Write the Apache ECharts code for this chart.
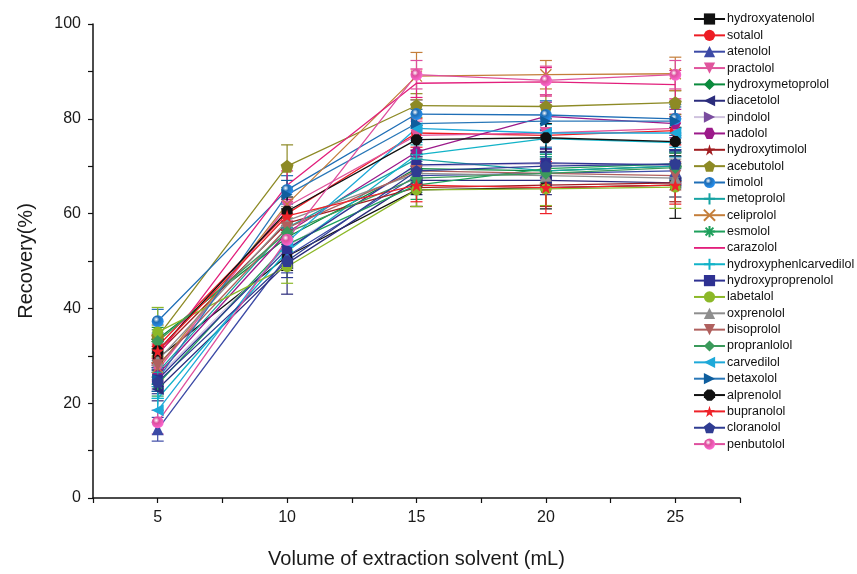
<!DOCTYPE html>
<html>
<head>
<meta charset="utf-8">
<title>Recovery vs extraction solvent volume</title>
<script src="https://cdn.jsdelivr.net/npm/echarts@6/dist/echarts.min.js"></script>
<style>
  html, body { margin: 0; padding: 0; background: #fff; }
  #chart { width: 857px; height: 574px; }
</style>
</head>
<body>
<div id="chart"></div>
<script>
// Extraction solvent volumes (mL)
const volume = [5, 10, 15, 20, 25];

// Mean recovery (%) and standard deviation for each analyte
const hydroxyatenolol = [29.5, 51.0, 65.0, 65.5, 66.0];
const hydroxyatenololErr = [2.5, 3.0, 3.5, 4.5, 7.0];
const sotalol = [32.0, 60.0, 77.0, 76.5, 77.5];
const sotalolErr = [2.5, 3.0, 3.0, 3.5, 3.0];
const atenolol = [14.5, 51.0, 68.0, 68.5, 69.0];
const atenololErr = [2.5, 3.5, 3.0, 3.0, 3.0];
const practolol = [27.0, 61.5, 76.5, 77.0, 78.0];
const practololErr = [2.5, 3.0, 3.0, 3.0, 3.0];
const hydroxymetoprolol = [33.5, 55.0, 69.5, 69.0, 70.0];
const hydroxymetoprololErr = [2.5, 3.0, 3.0, 3.0, 3.0];
const diacetolol = [23.0, 49.5, 67.0, 67.0, 66.5];
const diacetololErr = [2.5, 6.5, 3.0, 3.0, 3.0];
const pindolol = [25.5, 53.0, 70.0, 70.5, 70.0];
const pindololErr = [2.5, 3.0, 3.0, 3.0, 3.0];
const nadolol = [26.0, 56.0, 73.0, 80.5, 79.0];
const nadololErr = [2.5, 3.0, 3.0, 3.0, 3.0];
const hydroxytimolol = [30.5, 58.0, 65.5, 66.0, 66.5];
const hydroxytimololErr = [2.5, 3.0, 4.0, 4.5, 4.0];
const acebutolol = [34.0, 70.0, 82.8, 82.6, 83.4];
const acebutololErr = [2.5, 4.5, 2.5, 2.5, 2.5];
const timolol = [37.3, 65.0, 81.0, 80.8, 80.0];
const timololErr = [2.5, 3.0, 3.0, 3.0, 3.0];
const metoprolol = [26.5, 57.0, 71.5, 69.0, 70.0];
const metoprololErr = [2.5, 3.0, 3.0, 3.0, 3.0];
const celiprolol = [27.5, 62.0, 89.0, 89.3, 89.5];
const celiprololErr = [2.5, 3.0, 5.0, 3.0, 3.5];
const esmolol = [24.0, 53.5, 66.0, 69.5, 70.5];
const esmololErr = [2.5, 3.0, 3.0, 3.0, 3.0];
const carazolol = [30.0, 66.0, 87.5, 87.8, 87.2];
const carazololErr = [2.5, 3.0, 3.0, 3.0, 3.0];
const hydroxyphenlcarvedilol = [21.0, 52.0, 72.4, 75.8, 75.0];
const hydroxyphenlcarvedilolErr = [2.5, 3.0, 3.0, 3.0, 3.0];
const hydroxyproprenolol = [25.0, 52.5, 70.3, 70.7, 70.3];
const hydroxyproprenololErr = [2.5, 4.0, 3.0, 3.0, 3.0];
const labetalol = [35.0, 48.8, 65.0, 65.2, 65.6];
const labetalolErr = [5.2, 3.5, 3.5, 3.5, 4.5];
const oxprenolol = [29.0, 58.5, 68.5, 68.0, 67.5];
const oxprenololErr = [2.5, 3.0, 3.0, 3.0, 4.0];
const bisoprolol = [28.0, 57.0, 69.0, 68.5, 68.0];
const bisoprololErr = [2.5, 3.0, 3.0, 3.0, 3.0];
const propranlolol = [33.0, 56.0, 67.5, 68.5, 69.7];
const propranlololErr = [2.5, 3.0, 3.0, 3.0, 3.0];
const carvedilol = [18.5, 54.0, 78.0, 77.0, 77.0];
const carvedilolErr = [2.5, 3.0, 3.0, 3.0, 3.0];
const betaxolol = [25.0, 64.0, 79.0, 79.5, 79.5];
const betaxololErr = [2.5, 3.0, 3.0, 3.0, 3.0];
const alprenolol = [31.0, 60.5, 75.6, 76.0, 75.2];
const alprenololErr = [2.5, 3.0, 3.0, 3.0, 3.0];
const bupranolol = [31.0, 59.5, 66.0, 65.5, 66.0];
const bupranololErr = [2.5, 3.0, 3.5, 5.5, 4.0];
const cloranolol = [24.5, 50.0, 69.0, 70.0, 70.5];
const cloranololErr = [2.5, 3.5, 3.0, 3.0, 3.0];
const penbutolol = [16.0, 54.5, 89.3, 88.1, 89.3];
const penbutololErr = [2.5, 3.0, 3.0, 3.0, 3.0];

// Axis ticks
const xTicks = [5, 10, 15, 20, 25];
const yTicks = [0, 20, 40, 60, 80, 100];

// Marker shapes
const STAR = 'path://M50,0 L61,35 L98,35 L68,57 L79,91 L50,70 L21,91 L32,57 L2,35 L39,35 Z';
const PENTAGON = 'path://M50,0 L98,36 L80,95 L20,95 L2,36 Z';
const HEXAGON = 'path://M25,0 L75,0 L100,50 L75,100 L25,100 L0,50 Z';
const OCTAGON = 'path://M30,0 L70,0 L100,30 L100,70 L70,100 L30,100 L0,70 L0,30 Z';
const PLUS = 'path://M50,0 L50,100 M0,50 L100,50';
const CROSS = 'path://M0,0 L100,100 M100,0 L0,100';
const ASTERISK = 'path://M50,0 L50,100 M0,50 L100,50 M15,15 L85,85 M85,15 L15,85';
const BAR = 'path://M0,0 L100,0 L100,6 L0,6 Z';

const defs = [
  { name: 'hydroxyatenolol', data: hydroxyatenolol, err: hydroxyatenololErr, color: '#111111', symbol: 'rect', size: 10 },
  { name: 'sotalol', data: sotalol, err: sotalolErr, color: '#ed1c24', symbol: 'circle', size: 11 },
  { name: 'atenolol', data: atenolol, err: atenololErr, color: '#3c4aa6', symbol: 'triangle', size: 12 },
  { name: 'practolol', data: practolol, err: practololErr, color: '#e0559d', symbol: 'triangle', rotate: 180, size: 12 },
  { name: 'hydroxymetoprolol', data: hydroxymetoprolol, err: hydroxymetoprololErr, color: '#0b8a3d', symbol: 'diamond', size: 13 },
  { name: 'diacetolol', data: diacetolol, err: diacetololErr, color: '#2b2c7c', symbol: 'triangle', rotate: 90, size: 12 },
  { name: 'pindolol', data: pindolol, err: pindololErr, color: '#7a4c9f', line: '#cfc2de', symbol: 'triangle', rotate: -90, size: 11 },
  { name: 'nadolol', data: nadolol, err: nadololErr, color: '#9c1a8a', symbol: HEXAGON, size: 11 },
  { name: 'hydroxytimolol', data: hydroxytimolol, err: hydroxytimololErr, color: '#a11d21', symbol: STAR, size: 13 },
  { name: 'acebutolol', data: acebutolol, err: acebutololErr, color: '#8d8a25', symbol: PENTAGON, size: 13 },
  { name: 'timolol', data: timolol, err: timololErr, color: '#1f6eb6', symbol: 'circle', sphere: true, size: 12 },
  { name: 'metoprolol', data: metoprolol, err: metoprololErr, color: '#17a3a3', symbol: PLUS, hollow: true, size: 12 },
  { name: 'celiprolol', data: celiprolol, err: celiprololErr, color: '#c47e3a', symbol: CROSS, hollow: true, size: 11 },
  { name: 'esmolol', data: esmolol, err: esmololErr, color: '#1fa05c', symbol: ASTERISK, hollow: true, size: 12 },
  { name: 'carazolol', data: carazolol, err: carazololErr, color: '#e21f7c', symbol: 'none', size: 0, legendIcon: BAR },
  { name: 'hydroxyphenlcarvedilol', data: hydroxyphenlcarvedilol, err: hydroxyphenlcarvedilolErr, color: '#12b3c8', symbol: PLUS, hollow: true, size: 12 },
  { name: 'hydroxyproprenolol', data: hydroxyproprenolol, err: hydroxyproprenololErr, color: '#2e3192', symbol: 'rect', size: 10 },
  { name: 'labetalol', data: labetalol, err: labetalolErr, color: '#8cb828', symbol: 'circle', size: 11 },
  { name: 'oxprenolol', data: oxprenolol, err: oxprenololErr, color: '#8e8e8e', symbol: 'triangle', size: 12 },
  { name: 'bisoprolol', data: bisoprolol, err: bisoprololErr, color: '#b0605e', symbol: 'triangle', rotate: 180, size: 12 },
  { name: 'propranlolol', data: propranlolol, err: propranlololErr, color: '#3b9a5b', symbol: 'diamond', size: 13 },
  { name: 'carvedilol', data: carvedilol, err: carvedilolErr, color: '#1ea9d9', symbol: 'triangle', rotate: 90, size: 12 },
  { name: 'betaxolol', data: betaxolol, err: betaxololErr, color: '#0f5e9e', line: '#2a78b8', symbol: 'triangle', rotate: -90, size: 11 },
  { name: 'alprenolol', data: alprenolol, err: alprenololErr, color: '#111111', symbol: OCTAGON, size: 11 },
  { name: 'bupranolol', data: bupranolol, err: bupranololErr, color: '#ee2229', symbol: STAR, size: 13 },
  { name: 'cloranolol', data: cloranolol, err: cloranololErr, color: '#2f3c92', symbol: PENTAGON, size: 12 },
  { name: 'penbutolol', data: penbutolol, err: penbutololErr, color: '#de4f9e', symbol: 'circle', sphere: true, size: 12 }
];

function sphereFill(c) {
  return {
    type: 'radial', x: 0.38, y: 0.35, r: 0.7,
    colorStops: [
      { offset: 0, color: '#ffffff' },
      { offset: 0.35, color: c },
      { offset: 1, color: echarts.color.lift(c, -0.35) }
    ]
  };
}

const lineSeries = defs.map(d => ({
  name: d.name,
  type: 'line',
  data: volume.map((x, i) => [x, d.data[i]]),
  symbol: d.symbol,
  symbolSize: d.size,
  symbolRotate: d.rotate || 0,
  showSymbol: d.symbol !== 'none',
  lineStyle: { color: d.line || d.color, width: 1.3 },
  itemStyle: d.hollow
    ? { color: 'rgba(0,0,0,0)', borderColor: d.color, borderWidth: 1.3 }
    : { color: d.sphere ? sphereFill(d.color) : d.color, borderWidth: 0 },
  emphasis: { disabled: true },
  animation: false,
  z: 3
}));

const errorSeries = defs.map(d => ({
  name: d.name + ' SD',
  type: 'custom',
  data: volume.map((x, i) => [x, d.data[i] - d.err[i], d.data[i] + d.err[i]]),
  renderItem: function (params, api) {
    const lo = api.coord([api.value(0), api.value(1)]);
    const hi = api.coord([api.value(0), api.value(2)]);
    const w = 6;
    const style = { stroke: d.color, lineWidth: 1.2 };
    return {
      type: 'group',
      children: [
        { type: 'line', shape: { x1: hi[0], y1: hi[1], x2: lo[0], y2: lo[1] }, style: style },
        { type: 'line', shape: { x1: hi[0] - w, y1: hi[1], x2: hi[0] + w, y2: hi[1] }, style: style },
        { type: 'line', shape: { x1: lo[0] - w, y1: lo[1], x2: lo[0] + w, y2: lo[1] }, style: style }
      ]
    };
  },
  animation: false,
  silent: true,
  z: 2
}));

const axisFont = { fontFamily: 'Liberation Sans, Arial, sans-serif', color: '#1a1a1a' };

const option = {
  backgroundColor: '#ffffff',
  animation: false,
  grid: { left: 93, right: 117, top: 24, bottom: 75, containLabel: false },
  legend: {
    data: defs.map(d => (d.legendIcon ? { name: d.name, icon: d.legendIcon } : d.name)),
    orient: 'vertical',
    left: 688,
    top: 7,
    itemWidth: 31,
    itemHeight: 14,
    itemGap: 2.35,
    textStyle: { fontSize: 12.5, lineHeight: 14, fontFamily: 'Liberation Sans, Arial, sans-serif', color: '#111', padding: [0, 0, 0, -3] },
    selectedMode: false
  },
  xAxis: {
    type: 'value',
    min: 2.5,
    max: 27.5,
    interval: 2.5,
    name: 'Volume of extraction solvent (mL)',
    nameLocation: 'middle',
    nameGap: 51,
    nameTextStyle: Object.assign({ fontSize: 20 }, axisFont),
    axisLine: { show: true, onZero: false, lineStyle: { color: '#111', width: 1.5 } },
    axisTick: { show: true, inside: false, length: 5, lineStyle: { color: '#111', width: 1.2 } },
    axisLabel: Object.assign({
      fontSize: 16, margin: 12,
      formatter: v => (xTicks.indexOf(v) >= 0 ? String(v) : '')
    }, axisFont),
    splitLine: { show: false }
  },
  yAxis: {
    type: 'value',
    min: 0,
    max: 100,
    interval: 10,
    name: 'Recovery(%)',
    nameLocation: 'middle',
    nameGap: 57,
    nameTextStyle: Object.assign({ fontSize: 20 }, axisFont),
    axisLine: { show: true, lineStyle: { color: '#111', width: 1.5 } },
    axisTick: { show: true, inside: false, length: 5, lineStyle: { color: '#111', width: 1.2 } },
    axisLabel: Object.assign({
      fontSize: 16, margin: 12,
      formatter: v => (yTicks.indexOf(v) >= 0 ? String(v) : '')
    }, axisFont),
    splitLine: { show: false }
  },
  series: errorSeries.concat(lineSeries)
};

const chart = echarts.init(document.getElementById('chart'), null, { renderer: 'canvas' });
chart.setOption(option);
</script>
</body>
</html>
